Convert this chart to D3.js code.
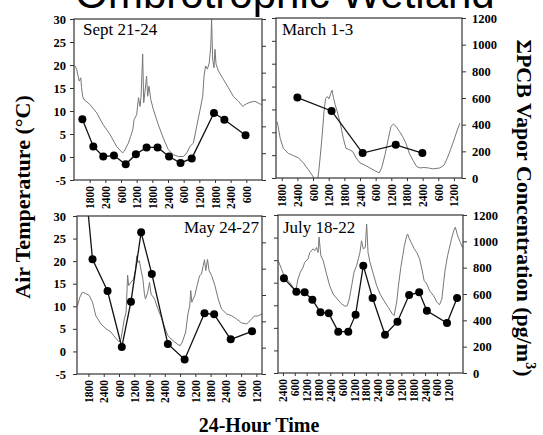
<!DOCTYPE html>
<html>
<head>
<meta charset="utf-8">
<script src="https://cdn.jsdelivr.net/npm/d3@7"></script>
<style>
body { margin: 0; background: #fff; }
svg { display: block; }
text { font-family: "Liberation Serif", "Times New Roman", serif; }
</style>
</head>
<body>
<svg id="chart" width="543" height="435"></svg>
<script>
// hours counted from midnight of the first day
const tempDomain = [-5, 30];
const pcbDomain = [0, 1200];
const tempTicks = [-5, 0, 5, 10, 15, 20, 25, 30];
const pcbTicks = [0, 200, 400, 600, 800, 1000, 1200];

const panelTitles = ["Sept 21-24", "March 1-3", "May 24-27", "July 18-22"];

const sepHours = [12, 84];
const sepTicks = [18, 24, 30, 36, 42, 48, 54, 60, 66, 72, 78];
const sepTemp = [[12.4,19.8],[13.0,19.1],[14.0,16.5],[14.6,17.2],[14.9,15.1],[15.3,13.2],[15.8,12.5],[18.1,11.4],[20.7,9.6],[23.2,7.0],[25.8,4.9],[28.3,2.3],[30.6,0.9],[31.2,1.2],[32.8,3.0],[33.7,4.5],[34.5,5.9],[35.0,8.1],[36.0,9.2],[36.7,12.9],[37.3,11.0],[37.7,13.2],[38.3,22.4],[38.7,11.8],[39.2,14.3],[39.8,17.6],[40.2,13.2],[40.7,15.4],[41.4,12.5],[42.4,10.3],[44.3,7.0],[46.2,4.1],[48.1,1.6],[50.1,0.5],[52.0,0.1],[53.9,0.1],[55.2,0.9],[56.4,2.3],[57.7,3.0],[59.0,6.7],[60.3,10.3],[61.3,13.2],[61.8,17.6],[62.4,19.8],[63.1,19.1],[63.8,20.5],[64.4,24.2],[64.7,30.0],[65.1,21.3],[65.6,19.4],[66.0,23.4],[66.4,20.2],[67.3,18.7],[69.2,16.9],[71.1,15.1],[73.0,13.2],[75.0,12.1],[76.6,11.0],[77.5,11.4],[79.4,11.9],[81.3,12.1],[83.0,11.6],[83.9,11.4]];
const sepPcb = [[15.2,452],[19.4,250],[23.2,175],[27.3,182],[31.8,117],[35.7,192],[39.8,243],[44.0,243],[48.4,175],[52.8,127],[57.1,161],[65.6,500],[69.6,449],[77.7,333]];

const marHours = [15.8, 87.1];
const marTicks = [18, 24, 30, 36, 42, 48, 54, 60, 66, 72, 78, 84];
const marTemp = [[16.3,7.3],[17.4,3.7],[18.6,1.5],[20.5,0.4],[22.5,-0.1],[24.4,-0.6],[26.3,-1.7],[28.2,-3.2],[29.9,-4.6],[30.8,-5.7],[31.7,-5.6],[32.2,-3.5],[32.7,-0.6],[33.4,3.7],[34.2,9.5],[34.8,12.4],[35.5,12.8],[36.1,12.3],[36.8,13.5],[37.3,14.2],[37.8,12.6],[38.5,11.0],[39.3,9.5],[40.3,7.3],[41.6,3.7],[42.6,1.5],[43.9,1.2],[45.2,0.8],[46.5,-0.6],[48.0,-1.7],[49.9,-2.2],[51.8,-2.8],[53.7,-3.4],[55.3,-3.9],[56.3,-2.8],[57.6,0.1],[58.9,3.7],[59.9,6.3],[60.8,6.8],[61.8,6.3],[63.1,5.2],[64.3,4.1],[65.6,2.6],[66.9,0.4],[68.4,-1.2],[69.7,-2.5],[71.0,-2.8],[72.5,-2.7],[74.2,-2.8],[76.1,-3.0],[78.6,-2.8],[80.2,-2.2],[81.5,-0.6],[82.7,1.2],[84.0,3.3],[85.3,5.5],[86.3,7.0]];
const marPcb = [[24.0,603],[37.1,503],[49.0,187],[61.7,249],[71.9,187]];

const mayHours = [13.5, 86.2];
const mayTicks = [18, 24, 30, 36, 42, 48, 54, 60, 66, 72, 78, 84];
const mayTemp = [[13.7,10.1],[14.6,12.0],[15.6,13.1],[16.7,12.9],[18.3,12.4],[19.6,10.9],[20.9,7.9],[22.9,6.1],[24.9,5.0],[26.8,4.3],[28.8,2.9],[30.1,2.1],[30.8,2.8],[32.1,7.2],[32.8,8.7],[33.4,16.9],[33.8,14.6],[34.7,15.3],[35.7,16.0],[36.5,18.2],[37.0,21.2],[37.5,19.7],[38.0,20.1],[38.7,17.9],[39.4,16.0],[40.0,12.7],[40.4,11.6],[41.3,13.1],[42.0,15.3],[42.6,12.7],[44.0,11.6],[45.3,9.4],[46.6,7.6],[47.9,5.4],[49.2,3.5],[51.2,2.4],[53.2,1.5],[54.1,1.3],[54.9,2.1],[56.2,4.3],[57.1,8.3],[57.8,10.1],[58.2,13.5],[58.6,10.9],[59.8,12.4],[60.7,14.6],[61.7,16.8],[62.4,17.1],[63.1,19.0],[63.6,20.3],[64.1,17.9],[64.8,20.4],[65.4,17.9],[66.4,16.8],[67.7,14.6],[69.0,11.6],[70.3,9.4],[72.3,8.3],[74.3,7.9],[76.2,7.2],[78.2,6.3],[80.2,6.1],[81.5,6.8],[83.1,7.8],[84.8,7.9],[86.1,8.3]];
const mayPcb = [[16.7,1466],[19.6,871],[25.5,630],[31.1,205],[34.7,549],[38.7,1076],[42.9,760],[49.2,228],[55.8,111],[63.6,461],[67.4,453],[73.9,263],[82.3,324]];

const julHours = [21.5, 115.2];
const julTicks = [24, 30, 36, 42, 48, 54, 60, 66, 72, 78, 84, 90, 96, 102, 108];
const julTemp = [[21.6,19.9],[24.9,16.2],[27.4,15.1],[29.1,14.0],[30.5,13.2],[31.6,15.8],[32.8,17.3],[34.2,18.4],[35.0,19.5],[36.7,20.3],[37.6,21.7],[39.3,22.5],[40.1,22.1],[41.0,22.8],[41.8,21.7],[42.3,25.1],[43.2,21.0],[44.4,19.9],[46.1,16.9],[47.7,14.3],[49.4,12.5],[51.5,11.4],[53.7,10.3],[55.4,9.8],[56.6,9.9],[57.6,11.4],[58.8,14.3],[60.0,17.3],[61.3,18.8],[62.2,20.3],[63.0,21.7],[63.8,24.3],[64.7,22.5],[65.7,22.8],[66.4,28.0],[67.1,21.7],[68.1,19.5],[69.8,16.9],[71.5,14.3],[73.2,12.5],[75.2,11.0],[77.4,9.5],[79.4,8.1],[80.3,7.7],[81.6,10.7],[82.5,14.3],[83.7,18.4],[84.7,21.0],[85.5,23.2],[86.7,25.4],[87.1,25.8],[88.1,24.7],[89.3,23.6],[90.5,22.5],[91.8,21.7],[93.2,20.3],[94.4,18.0],[95.5,15.5],[96.9,14.7],[98.3,13.2],[100.3,12.1],[102.0,10.7],[103.3,10.1],[104.5,11.4],[105.4,15.1],[106.2,18.0],[107.4,21.0],[108.8,23.6],[109.6,25.1],[110.8,26.9],[111.3,27.3],[112.5,25.4],[113.9,23.9],[114.9,22.8]];
const julPcb = [[24.5,719],[30.8,618],[35.0,613],[38.9,557],[43.0,461],[47.2,453],[52.0,314],[57.1,314],[60.8,443],[64.7,815],[69.4,570],[75.7,291],[82.0,390],[87.9,592],[93.0,613],[96.9,473],[107.1,380],[112.2,570]];

const serif = '"Liberation Serif", "Times New Roman", serif';
const svg = d3.select("#chart");

const panels = [
  { title: panelTitles[0], hours: sepHours, ticks: sepTicks, temp: sepTemp, pcb: sepPcb,
    x0: 74, x1: 262, y0: 19, y1: 180, side: "left", tx: 83, ty: 35, anchor: "start" },
  { title: panelTitles[1], hours: marHours, ticks: marTicks, temp: marTemp, pcb: marPcb,
    x0: 276, x1: 462, y0: 18, y1: 178, side: "right", tx: 282, ty: 35, anchor: "start" },
  { title: panelTitles[2], hours: mayHours, ticks: mayTicks, temp: mayTemp, pcb: mayPcb,
    x0: 77, x1: 262, y0: 216, y1: 374, side: "left", tx: 259, ty: 233, anchor: "end" },
  { title: panelTitles[3], hours: julHours, ticks: julTicks, temp: julTemp, pcb: julPcb,
    x0: 278, x1: 463, y0: 215, y1: 373, side: "right", tx: 283, ty: 233, anchor: "start" }
];

const hourLabel = h => {
  const m = h % 24;
  return m === 0 ? "2400" : String(m * 100);
};

function styleAxis(sel, size) {
  sel.attr("font-family", serif).attr("font-size", size).attr("font-weight", "bold");
  sel.select(".domain").remove();
  sel.selectAll(".tick line").attr("stroke", "#333");
  sel.selectAll(".tick text").attr("fill", "#000");
}

panels.forEach((p, i) => {
  const x = d3.scaleLinear().domain(p.hours).range([p.x0, p.x1]);
  const yT = d3.scaleLinear().domain(tempDomain).range([p.y1, p.y0]);
  const yP = d3.scaleLinear().domain(pcbDomain).range([p.y1, p.y0]);

  svg.append("clipPath").attr("id", "clip" + i)
    .append("rect")
    .attr("x", p.x0).attr("y", p.y0)
    .attr("width", p.x1 - p.x0).attr("height", p.y1 - p.y0);

  // temperature axis on the left edge
  const left = svg.append("g")
    .attr("transform", `translate(${p.x0},0)`)
    .call(d3.axisLeft(yT).tickValues(tempTicks).tickSize(4)
      .tickPadding(p.x0 - 70)
      .tickFormat(p.side === "left" ? d => String(d) : ""));
  styleAxis(left, 12.5);

  // PCB axis on the right edge
  const right = svg.append("g")
    .attr("transform", `translate(${p.x1},0)`)
    .call(d3.axisRight(yP).tickValues(pcbTicks).tickSize(4).tickPadding(6)
      .tickFormat(p.side === "right" ? d => String(d) : ""));
  styleAxis(right, 12.5);

  const bottom = svg.append("g")
    .attr("transform", `translate(0,${p.y1})`)
    .call(d3.axisBottom(x).tickValues(p.ticks).tickSize(3).tickFormat(hourLabel));
  styleAxis(bottom, 11.5);
  bottom.selectAll(".tick text")
    .attr("transform", "rotate(-90)")
    .attr("text-anchor", "end")
    .attr("x", -6).attr("y", 0)
    .attr("dy", "0.35em");

  const tempLine = d3.line().x(d => x(d[0])).y(d => yT(d[1]));
  svg.append("path")
    .datum(p.temp)
    .attr("clip-path", `url(#clip${i})`)
    .attr("fill", "none")
    .attr("stroke", "#777")
    .attr("stroke-width", 1)
    .attr("d", tempLine);

  const pcbLine = d3.line().x(d => x(d[0])).y(d => yP(d[1]));
  svg.append("path")
    .datum(p.pcb)
    .attr("clip-path", `url(#clip${i})`)
    .attr("fill", "none")
    .attr("stroke", "#111")
    .attr("stroke-width", 1.3)
    .attr("d", pcbLine);

  svg.append("g")
    .attr("clip-path", `url(#clip${i})`)
    .selectAll("circle")
    .data(p.pcb)
    .join("circle")
    .attr("cx", d => x(d[0]))
    .attr("cy", d => yP(d[1]))
    .attr("r", 4)
    .attr("fill", "#000");

  svg.append("rect")
    .attr("x", p.x0).attr("y", p.y0)
    .attr("width", p.x1 - p.x0).attr("height", p.y1 - p.y0)
    .attr("fill", "none")
    .attr("stroke", "#333")
    .attr("stroke-width", 1.2);

  svg.append("text")
    .attr("x", p.tx).attr("y", p.ty)
    .attr("text-anchor", p.anchor)
    .attr("font-size", 17)
    .text(p.title);
});

svg.append("text")
  .attr("transform", "translate(30,197) rotate(-90)")
  .attr("text-anchor", "middle")
  .attr("font-size", 22)
  .attr("font-weight", "bold")
  .text("Air Temperature (°C)");

const rightLabel = svg.append("text")
  .attr("transform", "translate(517,208) rotate(90)")
  .attr("text-anchor", "middle")
  .attr("font-size", 22)
  .attr("font-weight", "bold");
rightLabel.append("tspan").text("ΣPCB Vapor Concentration (pg/m");
rightLabel.append("tspan").attr("font-size", 14).attr("dy", -9).text("3");
rightLabel.append("tspan").attr("dy", 9).text(")");

svg.append("text")
  .attr("x", 259).attr("y", 432)
  .attr("text-anchor", "middle")
  .attr("font-size", 20)
  .attr("font-weight", "bold")
  .text("24-Hour Time");

svg.append("text")
  .attr("x", 285).attr("y", 8)
  .attr("text-anchor", "middle")
  .attr("font-family", '"Liberation Sans", Arial, sans-serif')
  .style("font-family", '"Liberation Sans", Arial, sans-serif')
  .attr("font-size", 42)
  .text("Ombrotrophic Wetland");
</script>
</body>
</html>
